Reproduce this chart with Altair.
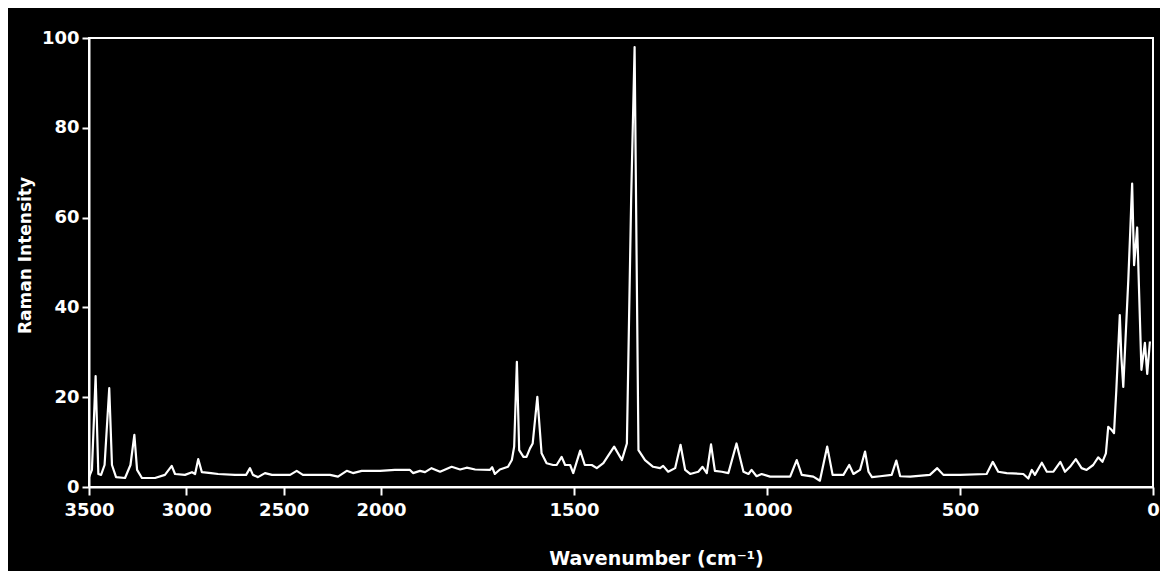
import altair as alt
import pandas as pd

# Raman spectrum (wavenumber in cm^-1, intensity)
wavenumber = [
    3500, 3485, 3466, 3452, 3438, 3420, 3396, 3382, 3361, 3315, 3287, 3267, 3253, 3228,
    3161, 3110, 3075, 3058, 3007, 2971, 2955, 2939, 2920, 2873, 2837, 2750, 2693, 2673,
    2658, 2632, 2596, 2560, 2467, 2433, 2401, 2262, 2221, 2176, 2144, 2099, 2057, 2005,
    1964, 1925, 1917, 1899, 1886, 1869, 1847, 1817, 1795, 1778, 1756, 1718, 1712, 1705,
    1692, 1671, 1661, 1655, 1648, 1642, 1631, 1623, 1614, 1607, 1595, 1584, 1571, 1554,
    1545, 1532, 1523, 1510, 1502, 1484, 1472, 1454, 1441, 1424, 1396, 1376, 1363, 1352,
    1343, 1338, 1333, 1316, 1295, 1277, 1269, 1256, 1238, 1224, 1212, 1199, 1178, 1167,
    1156, 1145, 1135, 1117, 1100, 1079, 1061, 1048, 1040, 1027, 1014, 992, 940, 923,
    910, 880, 863, 844, 830, 802, 787, 776, 759, 746, 737, 728, 707, 677, 665, 655, 629,
    578, 559, 543, 500, 431, 415, 401, 379, 336, 323, 314, 306, 288, 275, 258, 240, 228,
    215, 200, 185, 172, 155, 142, 131, 122, 116, 107, 101, 95, 86, 82, 77, 64, 54, 49,
    41, 30, 21, 15, 8,
]
intensity = [
    2.2, 3.8, 24.7, 2.9, 2.7, 4.9, 22.0, 4.9, 2.2, 2.0, 4.9, 11.6, 3.8, 2.0,
    2.0, 2.7, 4.7, 2.9, 2.7, 3.3, 2.9, 6.2, 3.3, 3.1, 2.9, 2.7, 2.7, 4.2,
    2.7, 2.2, 3.1, 2.7, 2.7, 3.6, 2.7, 2.7, 2.3, 3.6, 3.1, 3.6, 3.6, 3.6,
    3.8, 3.8, 3.1, 3.6, 3.3, 4.2, 3.4, 4.5, 3.9, 4.3, 3.9, 3.8, 4.4, 2.9,
    3.9, 4.5, 6.0, 9.0, 27.9, 8.2, 6.7, 6.7, 8.6, 9.7, 20.1, 7.5, 5.3, 4.9,
    4.9, 6.7, 4.9, 4.9, 3.1, 8.1, 4.9, 4.9, 4.2, 5.3, 9.0, 6.0, 9.7, 63.9,
    98.0, 52.8, 8.2, 6.0, 4.5, 4.2, 4.7, 3.4, 4.2, 9.4, 3.8, 2.9, 3.4, 4.5,
    3.1, 9.5, 3.6, 3.4, 3.1, 9.7, 3.4, 2.9, 3.8, 2.4, 2.9, 2.3, 2.3, 6.0,
    2.7, 2.3, 1.4, 9.0, 2.7, 2.7, 4.9, 2.9, 3.8, 7.9, 3.4, 2.2, 2.4, 2.7, 5.9, 2.4, 2.3,
    2.7, 4.2, 2.7, 2.7, 2.9, 5.6, 3.4, 3.1, 2.9, 1.9, 3.8, 2.7, 5.4, 3.4, 3.4, 5.6, 3.4,
    4.5, 6.2, 4.2, 3.8, 4.9, 6.6, 5.6, 7.5, 13.4, 12.7, 12.0, 21.6, 38.3, 29.0, 22.3, 46.1, 67.6, 49.4,
    57.8, 26.1, 32.1, 25.2, 32.4,
]

x_ticks = [3500, 3000, 2500, 2000, 1500, 1000, 500, 0]
y_ticks = [0, 20, 40, 60, 80, 100]

df = pd.DataFrame({"wn": wavenumber, "I": intensity})

W, H = 1064, 449
FONT = "DejaVu Sans"

chart = (
    alt.Chart(df)
    .mark_line(color="white", strokeWidth=2.2, strokeJoin="round")
    .encode(
        x=alt.X(
            "wn:Q",
            scale=alt.Scale(domain=[3500, 2000, 0], range=[0, 292, W], nice=False, zero=False),
            axis=alt.Axis(
                values=x_ticks,
                format="d",
                title="Wavenumber (cm⁻¹)",
                titleX=567,
                titleY=71,
                titleAlign="center",
                titleBaseline="middle",
                titleFontSize=19,
                titleFontWeight="bold",
                labelFontSize=18,
                labelFontWeight="bold",
                labelPadding=6,
                tickSize=8,
                labelFlush=False,
            ),
        ),
        y=alt.Y(
            "I:Q",
            scale=alt.Scale(domain=[0, 100], nice=False),
            axis=alt.Axis(
                values=y_ticks,
                format="d",
                title="Raman Intensity",
                titleX=-64,
                titleY=217,
                titleAngle=-90,
                titleAlign="center",
                titleBaseline="middle",
                titleFontSize=17,
                titleFontWeight="bold",
                labelFontSize=18,
                labelFontWeight="bold",
                labelPadding=3,
                tickSize=7,
            ),
        ),
    )
    .properties(
        width=W,
        height=H,
        autosize=alt.AutoSizeParams(type="none"),
        padding={"left": 81, "top": 30, "right": 7, "bottom": 84},
    )
    .configure(background="black")
    .configure_view(stroke="white", strokeWidth=2)
    .configure_axis(
        grid=False,
        domainColor="white",
        domainWidth=2,
        tickColor="white",
        tickWidth=2,
        labelColor="white",
        titleColor="white",
        labelFont=FONT,
        titleFont=FONT,
    )
)

chart.save("out.html", embed_options={"renderer": "svg", "actions": False})
